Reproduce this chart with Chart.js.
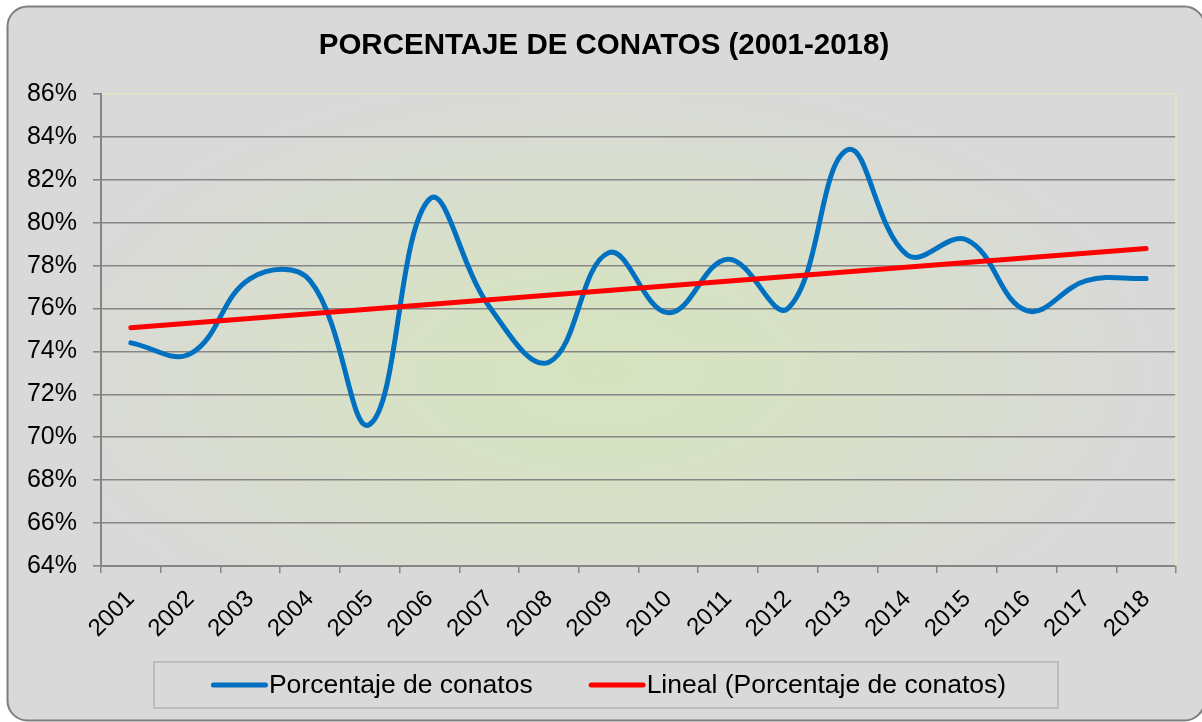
<!DOCTYPE html>
<html><head><meta charset="utf-8">
<script src="https://cdn.jsdelivr.net/npm/chart.js@4.4.1/dist/chart.umd.min.js"></script>
<style>html,body{margin:0;padding:0;background:#fff;overflow:hidden;} #wrap{width:1202px;height:722px;position:relative;}</style>
</head><body><div id="wrap"><canvas id="c" width="1202" height="722" style="width:1202px;height:722px"></canvas></div>
<script>
const years = ['2001','2002','2003','2004','2005','2006','2007','2008','2009','2010','2011','2012','2013','2014','2015','2016','2017','2018'];
const conatos = [74.4, 73.9, 77.4, 77.3, 70.6, 81.1, 76.1, 73.5, 78.6, 75.8, 78.3, 76.0, 83.4, 78.5, 79.2, 75.9, 77.3, 77.4];
const trendStart = 75.1;
const trendEnd = 78.8;
const trend = years.map((y, i) => i === 0 ? trendStart : (i === years.length - 1 ? trendEnd : null));
const yMin = 64, yMax = 86, yStep = 2;

const FONT = "'Liberation Sans', Arial, sans-serif";

function roundRectPath(ctx, x, y, w, h, r) {
  ctx.beginPath();
  ctx.moveTo(x + r, y);
  ctx.lineTo(x + w - r, y);
  ctx.arcTo(x + w, y, x + w, y + r, r);
  ctx.lineTo(x + w, y + h - r);
  ctx.arcTo(x + w, y + h, x + w - r, y + h, r);
  ctx.lineTo(x + r, y + h);
  ctx.arcTo(x, y + h, x, y + h - r, r);
  ctx.lineTo(x, y + r);
  ctx.arcTo(x, y, x + r, y, r);
  ctx.closePath();
}

const bgPlugin = {
  id: 'bg',
  beforeDraw(chart) {
    const ctx = chart.ctx, a = chart.chartArea;
    ctx.save();
    ctx.fillStyle = '#ffffff';
    ctx.fillRect(0, 0, chart.width, chart.height);
    roundRectPath(ctx, 7.5, 6.5, 1197, 714, 20);
    ctx.fillStyle = '#d9d9d9';
    ctx.fill();
    ctx.lineWidth = 2;
    ctx.strokeStyle = '#7f7f7f';
    ctx.stroke();
    // plot area gradient
    ctx.save();
    ctx.beginPath();
    ctx.rect(a.left, a.top, a.right - a.left, a.bottom - a.top);
    ctx.clip();
    const cx = (a.left + a.right) / 2 - 40, cy = (a.top + a.bottom) / 2 + 40;
    const rx = 560, ry = 300;
    ctx.translate(cx, cy);
    ctx.scale(1, ry / rx);
    const g = ctx.createRadialGradient(0, 0, 0, 0, 0, rx);
    g.addColorStop(0, '#d6e3bf');
    g.addColorStop(0.35, '#d7e1c5');
    g.addColorStop(1, '#d9d9d9');
    ctx.fillStyle = g;
    ctx.fillRect(-rx * 2, -rx * 2, rx * 4, rx * 4);
    ctx.restore();
    ctx.restore();
  },
  beforeDatasetsDraw(chart) {
    const ctx = chart.ctx, a = chart.chartArea;
    ctx.save();
    ctx.strokeStyle = '#dfe9c3';
    ctx.lineWidth = 1.5;
    ctx.beginPath();
    ctx.moveTo(a.right, a.top);
    ctx.lineTo(a.right, a.bottom);
    ctx.stroke();
    ctx.restore();
  },
  afterDraw(chart) {
    // legend (drawn from the datasets)
    const ctx = chart.ctx;
    const box = { x: 154, y: 662, w: 904, h: 46 };
    ctx.save();
    ctx.lineWidth = 2;
    ctx.strokeStyle = '#bcbcbc';
    ctx.strokeRect(box.x, box.y, box.w, box.h);
    ctx.font = '26.5px ' + FONT;
    ctx.textBaseline = 'middle';
    ctx.textAlign = 'left';
    const lineLen = 52, gap = 6, spacing = 56;
    const items = chart.data.datasets.map(d => ({ text: d.label, color: d.borderColor, w: ctx.measureText(d.label).width }));
    const total = items.reduce((s, it) => s + lineLen + gap + it.w, 0) + spacing * (items.length - 1);
    let x = 608.5 - total / 2;
    const cy = box.y + box.h / 2;
    items.forEach(it => {
      ctx.strokeStyle = it.color;
      ctx.lineWidth = 5;
      ctx.lineCap = 'round';
      ctx.beginPath();
      ctx.moveTo(x + 2.5, cy);
      ctx.lineTo(x + 2.5 + lineLen, cy);
      ctx.stroke();
      ctx.fillStyle = '#000';
      ctx.fillText(it.text, x + lineLen + gap, cy + 1);
      x += lineLen + gap + it.w + spacing;
    });
    ctx.restore();
  }
};

new Chart(document.getElementById('c'), {
  type: 'line',
  data: {
    labels: years,
    datasets: [
      {
        label: 'Porcentaje de conatos',
        data: conatos,
        borderColor: '#0070c0',
        backgroundColor: '#0070c0',
        borderWidth: 5,
        pointRadius: 0,
        tension: 0.4,
        borderCapStyle: 'round',
        borderJoinStyle: 'round',
        order: 1
      },
      {
        label: 'Lineal (Porcentaje de conatos)',
        data: trend,
        borderColor: '#ff0000',
        backgroundColor: '#ff0000',
        borderWidth: 5,
        pointRadius: 0,
        tension: 0,
        spanGaps: true,
        borderCapStyle: 'round',
        order: 0
      }
    ]
  },
  options: {
    responsive: false,
    animation: false,
    devicePixelRatio: 1,
    layout: { padding: { left: 22, right: 16, top: 0, bottom: 76 } },
    plugins: {
      tooltip: { enabled: false },
      legend: { display: false },
      title: {
        display: true,
        text: 'PORCENTAJE DE CONATOS (2001-2018)',
        color: '#000',
        font: { family: FONT, size: 29.5, weight: 'bold' },
        padding: { top: 28, bottom: 30.6 }
      }
    },
    scales: {
      x: {
        offset: true,
        grid: { offset: true, drawOnChartArea: false, drawTicks: true, tickLength: 7, color: '#868686', lineWidth: 1.5 },
        border: { color: '#868686', width: 2 },
        ticks: { color: '#000', font: { family: FONT, size: 24 }, minRotation: 45, maxRotation: 45, autoSkip: false, padding: 12 },
        afterFit(s) { s.height = 80; }
      },
      y: {
        min: yMin, max: yMax,
        grid: {
          color: (c) => (c.tick && c.tick.value === yMax) ? '#dfe9c3' : '#868686',
          tickColor: '#868686',
          lineWidth: 1.6,
          tickLength: 8
        },
        border: { color: '#868686', width: 2 },
        ticks: { stepSize: yStep, color: '#000', font: { family: FONT, size: 25 }, padding: 16, callback: (v) => v + '%' },
        afterFit(s) { s.width = 79; }
      },
      yRight: {
        position: 'right',
        display: true,
        grid: { display: false, drawTicks: false },
        border: { display: false },
        ticks: { display: false },
        afterFit(s) { s.width = 10; }
      }
    }
  },
  plugins: [bgPlugin]
});
</script>
</body></html>
